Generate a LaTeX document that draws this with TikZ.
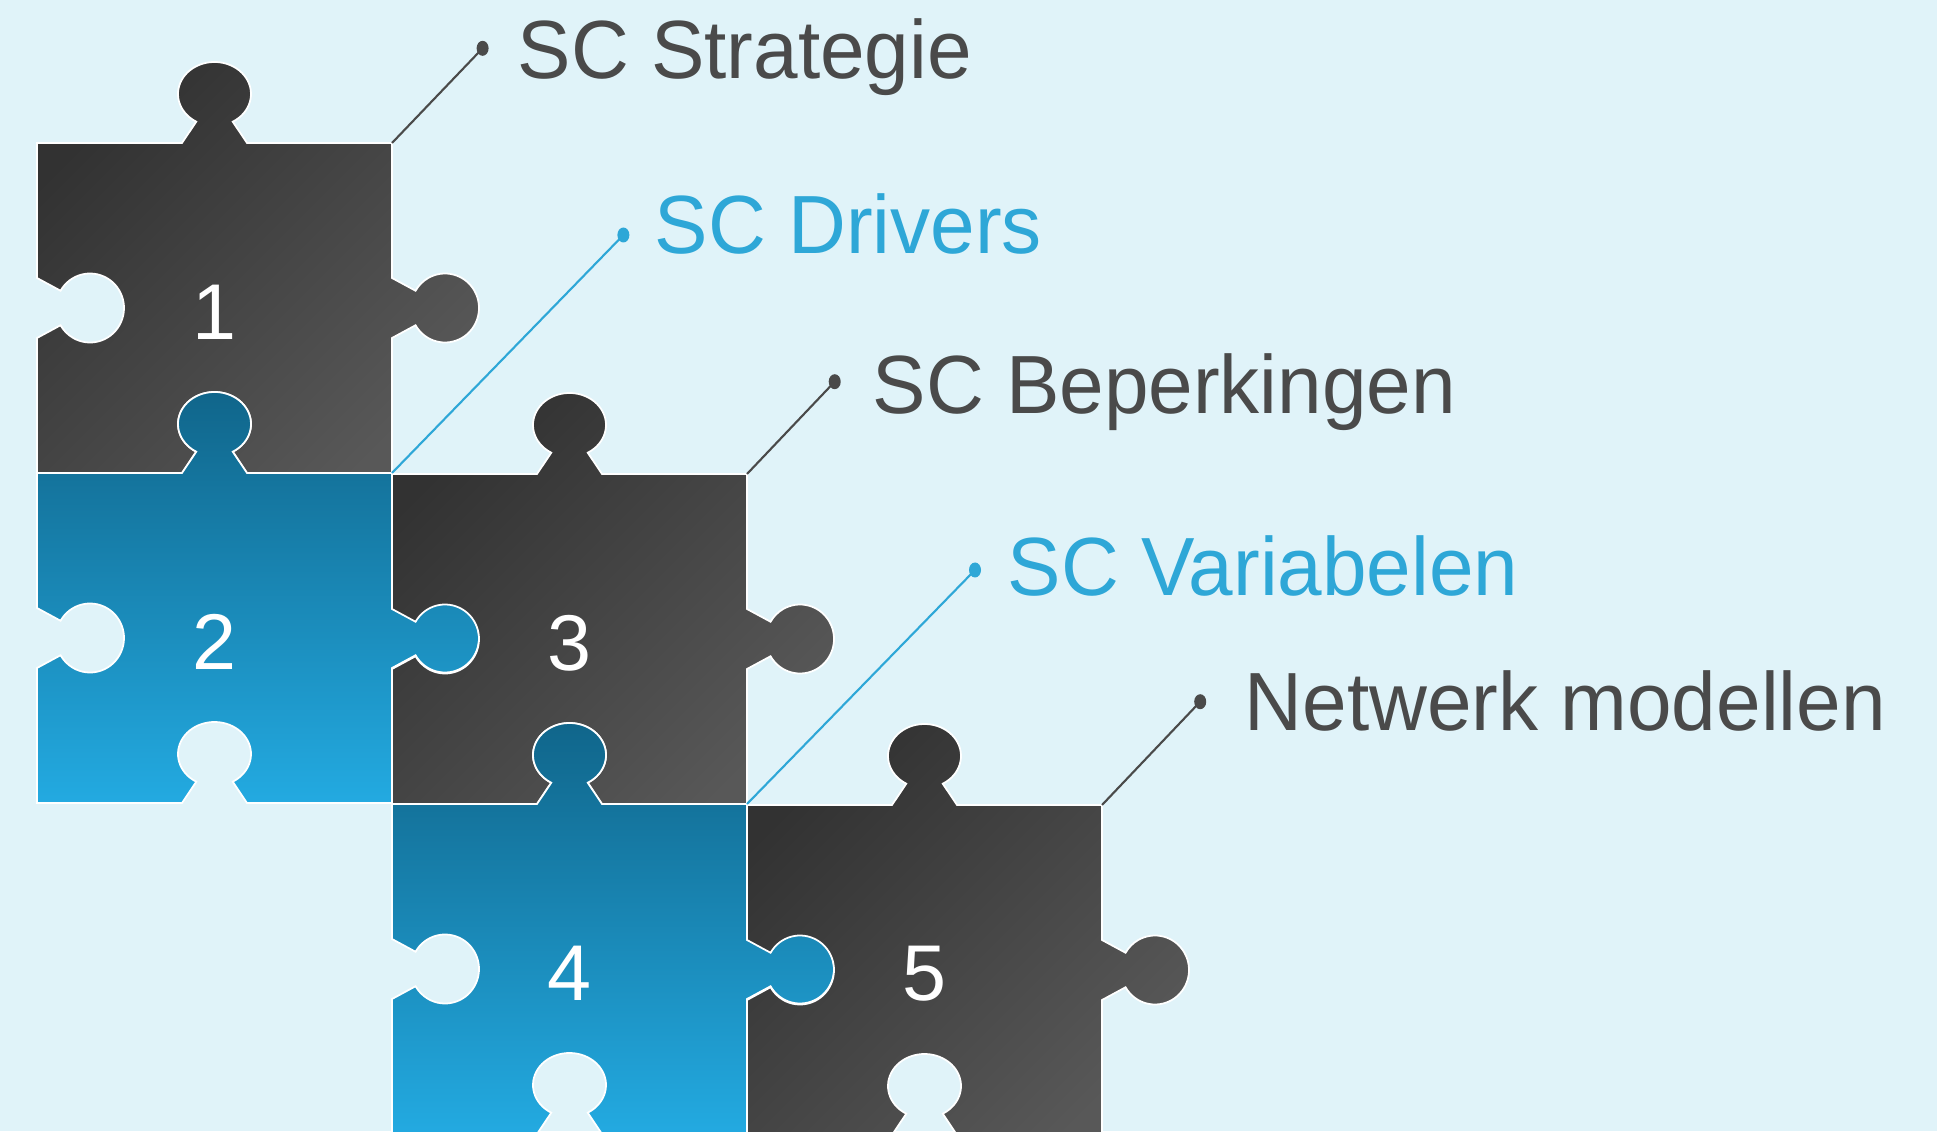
\documentclass[tikz,border=0pt]{standalone}
\usepackage{fontspec}
\setmainfont{Liberation Sans}
\usepackage{graphicx}
\usepackage{xcolor}
\usepackage{tikz}

\definecolor{bg}{HTML}{E0F3F9}
\definecolor{ink}{HTML}{4A4A4A}
\definecolor{sky}{HTML}{2EA7D7}
\definecolor{bluetop}{HTML}{10658A}
\definecolor{bluebot}{HTML}{23AAE1}
\definecolor{darkA}{HTML}{323232}
\definecolor{darkC}{HTML}{585858}

\begin{document}
\begin{tikzpicture}[
        dark/.style={draw=white, line width=0.5pt, shade, top color=darkA, bottom color=darkC, shading angle=45},
        blue/.style={draw=white, line width=0.5pt, shade, top color=bluetop, bottom color=bluebot},
        num/.style={text=white, inner sep=0, font=\fontsize{22.5}{27}\selectfont},
        lbl/.style={anchor=base west, inner sep=0, font=\fontsize{23.5}{28}\selectfont},
        lead/.style={line width=0.6pt}
    ]
                  \fill[bg, use as bounding box] (0, 0) rectangle (19.37, 11.31);
                  \clip (0, 0) rectangle (19.37, 11.31);

                  \foreach \x/\y/\s/\n in {0.37/6.58/dark/1, 0.37/3.28/blue/2, 3.92/3.27/dark/3, 3.92/-0.03/blue/4, 7.47/-0.04/dark/5} {
                          \begin{scope}[shift={(\x, \y)}]
                              \path[\s] (0, 0) -- (1.45, 0) -- (1.5925, 0.2129)
                                  arc[start angle=240, end angle=-60, x radius=0.365, y radius=0.32]
                                  -- (2.10, 0) -- (3.55, 0) -- (3.55, 1.35) -- (3.7856, 1.4775)
                                  arc[start angle=-150, end angle=150, x radius=0.34, y radius=0.345]
                                  -- (3.55, 1.95) -- (3.55, 3.30) -- (2.10, 3.30) -- (1.9575, 3.5129)
                                  arc[start angle=-60, end angle=240, x radius=0.365, y radius=0.32]
                                  -- (1.45, 3.30) -- (0, 3.30) -- (0, 1.95) -- (0.2356, 1.8225)
                                  arc[start angle=150, end angle=-150, x radius=0.34, y radius=0.345]
                                  -- (0, 1.35) -- cycle;
                              \node[num] (n\n) at (1.775, 1.61) {\n};
                              \coordinate (k\n) at (3.55, 3.30);
                          \end{scope}
                      }

                  \coordinate (d1) at (4.826, 10.827);
                  \coordinate (d2) at (6.234, 8.96);
                  \coordinate (d3) at (8.347, 7.493);
                  \coordinate (d4) at (9.75, 5.61);
                  \coordinate (d5) at (12.002, 4.293);

                  \draw[lead, ink] (k1) -- (d1);
                  \draw[lead, sky] (k2) -- (d2);
                  \draw[lead, ink] (k3) -- (d3);
                  \draw[lead, sky] (k4) -- (d4);
                  \draw[lead, ink] (k5) -- (d5);

                  \foreach \d/\c in {d1/ink, d2/sky, d3/ink, d4/sky, d5/ink} {
                          \fill[\c] (\d) ellipse[x radius=0.06, y radius=0.075];
                      }

                  \node[lbl, ink] (t1) at (5.17, 10.527) {\scalebox{0.97}[1]{SC Strategie}};
                  \node[lbl, sky] (t2) at (6.54, 8.777) {\scalebox{0.97}[1]{SC Drivers}};
                  \node[lbl, ink] (t3) at (8.72, 7.177) {\scalebox{0.97}[1]{SC Beperkingen}};
                  \node[lbl, sky] (t4) at (10.07, 5.35) {\scalebox{0.97}[1]{SC Variabelen}};
                  \node[lbl, ink] (t5) at (12.44, 4.003) {\scalebox{0.97}[1]{Netwerk modellen}};
              \end{tikzpicture}
\end{document}
